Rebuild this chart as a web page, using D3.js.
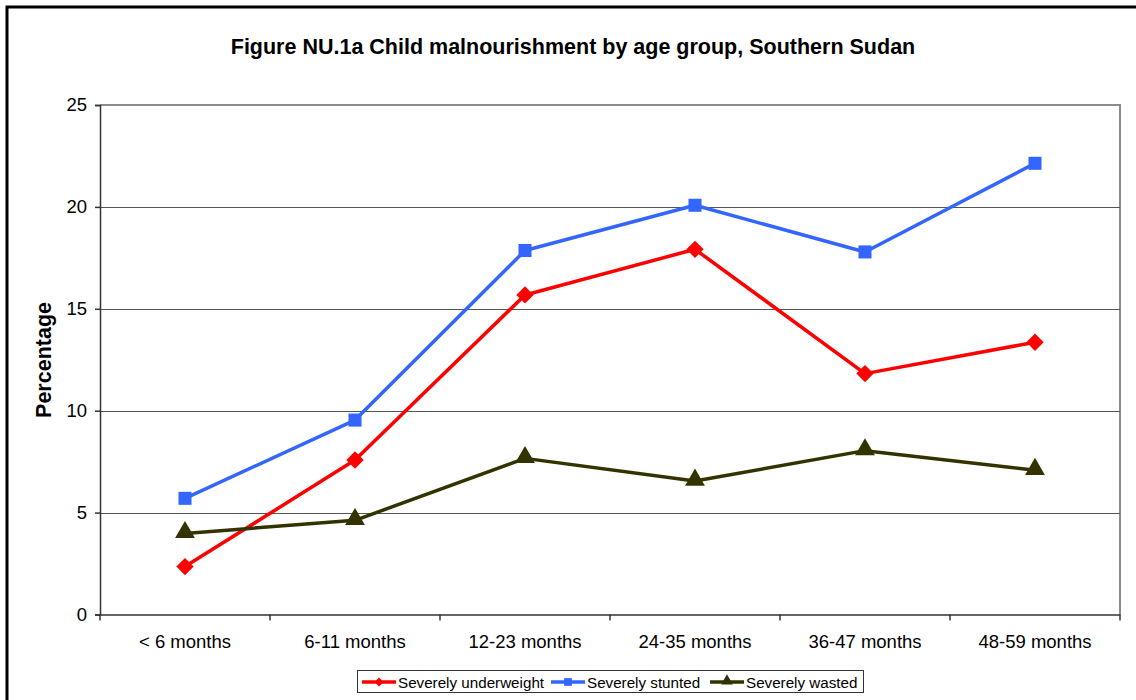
<!DOCTYPE html>
<html lang="en">
<head>
  <meta charset="UTF-8">
  <title>Child malnourishment by age group</title>
  <script src="https://d3js.org/d3.v7.min.js"></script>
  <style>
    body { margin: 0; background: #fff; }
    text { font-family: "Liberation Sans", Arial, sans-serif; fill: #000; }
  </style>
</head>
<body>
  <svg width="1136" height="700"></svg>

  <script>
    // Data
    const ageGroups = ["< 6 months", "6-11 months", "12-23 months", "24-35 months", "36-47 months", "48-59 months"];
    const underweight = [2.35, 7.58, 15.68, 17.92, 11.82, 13.36];
    const stunted = [5.7, 9.54, 17.86, 20.08, 17.79, 22.14];
    const wasted = [3.98, 4.62, 7.66, 6.55, 8.04, 7.08];
    const yTicks = [0, 5, 10, 15, 20, 25];

    const series = [
      { name: "Severely underweight", values: underweight, color: "#ff0000", symbol: "diamond" },
      { name: "Severely stunted", values: stunted, color: "#3366ff", symbol: "square" },
      { name: "Severely wasted", values: wasted, color: "#333300", symbol: "triangle" }
    ];

    const svg = d3.select("svg");

    // outer frame (runs off the right and bottom edge)
    svg.append("rect")
      .attr("x", 7).attr("y", 7)
      .attr("width", 1140).attr("height", 700)
      .attr("fill", "none")
      .attr("stroke", "black")
      .attr("stroke-width", 3);

    const plot = { left: 100, top: 105, right: 1120, bottom: 614.5 };

    const x = d3.scaleBand()
      .domain(ageGroups)
      .range([plot.left, plot.right]);

    const y = d3.scaleLinear()
      .domain([0, 25])
      .range([plot.bottom, plot.top]);

    // title
    svg.append("text")
      .attr("x", 573)
      .attr("y", 54)
      .attr("text-anchor", "middle")
      .attr("font-size", 21.5)
      .attr("font-weight", "bold")
      .text("Figure NU.1a Child malnourishment by age group, Southern Sudan");

    // plot area border top/right
    svg.append("path")
      .attr("d", `M${plot.left},${plot.top}H${plot.right}V${plot.bottom}`)
      .attr("fill", "none")
      .attr("stroke", "#8c8c8c")
      .attr("stroke-width", 2);

    // gridlines
    svg.append("g")
      .selectAll("line")
      .data(yTicks.filter(d => d > 0 && d < 25))
      .enter().append("line")
      .attr("x1", plot.left).attr("x2", plot.right)
      .attr("y1", d => Math.round(y(d)) + 0.5)
      .attr("y2", d => Math.round(y(d)) + 0.5)
      .attr("stroke", "#555")
      .attr("stroke-width", 1);

    // y axis
    const yAxis = svg.append("g")
      .attr("transform", `translate(${plot.left},0)`)
      .call(d3.axisLeft(y).tickValues(yTicks).tickSize(5).tickPadding(8));
    yAxis.selectAll("path, line").attr("stroke", "#333").attr("stroke-width", 1.5);
    yAxis.selectAll("text")
      .attr("font-size", 18.5)
      .attr("font-family", "Liberation Sans, Arial, sans-serif")
      .attr("fill", "#000");

    // x axis
    const xAxis = svg.append("g")
      .attr("transform", `translate(0,${plot.bottom})`)
      .call(d3.axisBottom(x).tickSize(0).tickPadding(20));
    xAxis.select(".domain").attr("stroke", "#333").attr("stroke-width", 1.5);
    xAxis.selectAll("text")
      .attr("font-size", 18.5)
      .attr("font-family", "Liberation Sans, Arial, sans-serif")
      .attr("fill", "#000");

    // x tick marks between categories
    const boundaries = ageGroups.map(d => x(d)).concat([plot.right]);
    svg.append("g")
      .selectAll("line")
      .data(boundaries)
      .enter().append("line")
      .attr("x1", d => d).attr("x2", d => d)
      .attr("y1", plot.bottom).attr("y2", plot.bottom + 6)
      .attr("stroke", "#333")
      .attr("stroke-width", 1.5);

    // y axis title
    svg.append("text")
      .attr("transform", "translate(51,360) rotate(-90)")
      .attr("text-anchor", "middle")
      .attr("font-size", 21.5)
      .attr("font-weight", "bold")
      .text("Percentage");

    const symbols = {
      diamond: d3.symbol().type(d3.symbolSquare).size(150),
      square: d3.symbol().type(d3.symbolSquare).size(170),
      triangle: d3.symbol().type(d3.symbolTriangle).size(170)
    };

    const line = d3.line()
      .x((d, i) => x(ageGroups[i]) + x.bandwidth() / 2)
      .y(d => y(d));

    series.forEach(s => {
      svg.append("path")
        .datum(s.values)
        .attr("d", line)
        .attr("fill", "none")
        .attr("stroke", s.color)
        .attr("stroke-width", 3.5)
        .attr("stroke-linejoin", "round");

      svg.append("g")
        .selectAll("path")
        .data(s.values)
        .enter().append("path")
        .attr("d", symbols[s.symbol])
        .attr("transform", (d, i) => {
          const cx = x(ageGroups[i]) + x.bandwidth() / 2;
          const cy = y(d) - (s.symbol === "triangle" ? 1 : 0);
          return `translate(${cx},${cy})` + (s.symbol === "diamond" ? " rotate(45)" : "");
        })
        .attr("fill", s.color);
    });

    // legend
    const legend = svg.append("g").attr("transform", "translate(357,670)");
    legend.append("rect")
      .attr("x", 0.5).attr("y", 0.5)
      .attr("width", 506).attr("height", 22)
      .attr("fill", "white")
      .attr("stroke", "#333")
      .attr("stroke-width", 1);

    const legendX = [5, 194, 353];
    series.forEach((s, i) => {
      const g = legend.append("g").attr("transform", `translate(${legendX[i]},12)`);
      g.append("line")
        .attr("x1", 0).attr("x2", 34)
        .attr("stroke", s.color)
        .attr("stroke-width", 3.5);
      g.append("path")
        .attr("d", d3.symbol().type(s.symbol === "triangle" ? d3.symbolTriangle : d3.symbolSquare).size(s.symbol === "diamond" ? 40 : 60))
        .attr("transform", `translate(17,${s.symbol === "triangle" ? -1 : 0})` + (s.symbol === "diamond" ? " rotate(45)" : ""))
        .attr("fill", s.color);
      g.append("text")
        .attr("x", 36)
        .attr("y", 5.5)
        .attr("font-size", 15.2)
        .text(s.name);
    });
  </script>
</body>
</html>
